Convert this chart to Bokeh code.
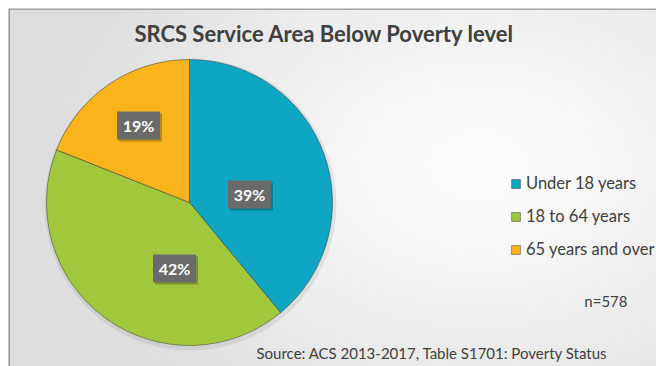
import numpy as np
from bokeh.plotting import figure
from bokeh.models import ColumnDataSource, Range1d, Label, Legend, LegendItem, Span
from bokeh.core.properties import value
from bokeh.embed import file_html
from bokeh.resources import INLINE

# ---- data ----
categories = ["Under 18 years", "18 to 64 years", "65 years and over"]
percents = [39, 42, 19]
colors = ["#0ea6c2", "#a1c83d", "#fab41b"]
title_text = "SRCS Service Area Below Poverty level"
n_text = "n=578"
source_text = "Source: ACS 2013-2017, Table S1701: Poverty Status"

# ---- layout ----
W, H = 648, 358          # frame size
cx, cy, R = 181, 164, 143
label_dx = [60, -15, -51]
label_dy = [8, -66, 77]
FONT = "Lato"
TXT = "#404040"

vals = np.array(percents, dtype=float)
frac = vals / vals.sum()
cum = np.concatenate([[0], np.cumsum(frac)])
start = np.pi / 2 - 2 * np.pi * cum[:-1]
end = np.pi / 2 - 2 * np.pi * cum[1:]

src = ColumnDataSource(dict(
    category=categories, start=start, end=end, color=colors,
    lx=[cx + d for d in label_dx], ly=[cy + d for d in label_dy],
    lbl=[f"{v}%" for v in percents],
))

p = figure(width=W + 8, height=H + 8, x_range=Range1d(0, W), y_range=Range1d(0, H),
           output_backend="svg", toolbar_location=None,
           min_border_left=8, min_border_top=8, min_border_right=0, min_border_bottom=0,
           background_fill_color="#eeeeee", border_fill_color="#ffffff",
           outline_line_color=None)
p.axis.visible = False
p.grid.visible = False

# soft radial background (decorative)
yy, xx = np.mgrid[0:H, 0:W]
t = np.sqrt(((xx - 470) / 430.0) ** 2 + ((yy - 200) / 300.0) ** 2)
t = np.clip(t, 0, 1)
g = (253 - 31 * t ** 1.3).astype(np.uint32)
img = (255 << 24) | (g << 16) | (g << 8) | g
p.image_rgba(image=[img.astype(np.uint32)], x=0, y=0, dw=W, dh=H)

# frame border (top & left visible in window)
p.add_layout(Span(location=0, dimension="height", line_color="#9a9a9a", line_width=3))
p.add_layout(Span(location=H, dimension="width", line_color="#a8a8a8", line_width=3))

# pie shadow
p.circle(x=cx + 1, y=cy - 2, radius=R + 3, fill_color="#000000", fill_alpha=0.07, line_color=None)

w = p.wedge(x=cx, y=cy, radius=R, start_angle="start", end_angle="end", direction="clock",
            fill_color="color", line_color="#2a2a2a", line_alpha=0.45, line_width=1, source=src)

# label boxes with shadow
p.rect(x=[x + 2 for x in src.data["lx"]], y=[y - 2 for y in src.data["ly"]], width=43, height=28,
       width_units="screen", height_units="screen", fill_color="#000000", fill_alpha=0.25, line_color=None)
p.rect(x="lx", y="ly", width=43, height=28, width_units="screen", height_units="screen",
       fill_color="#6a6a6a", line_color=None, source=src)
p.text(x="lx", y="ly", text="lbl", text_align="center", text_baseline="middle",
       text_font=value(FONT), text_font_style="bold", text_font_size="16px",
       text_color="white", source=src)

# legend
legend = Legend(items=[LegendItem(label=c, renderers=[w], index=i) for i, c in enumerate(categories)],
                location=(502, 107), orientation="vertical",
                glyph_width=11, glyph_height=11, label_standoff=5, label_height=20, spacing=13,
                padding=0, margin=0, border_line_color=None, background_fill_alpha=0,
                label_text_font=FONT, label_text_font_size="16.5px", label_text_color=TXT)
p.add_layout(legend, "center")

p.add_layout(Label(x=316, y=333, text=title_text, text_align="center", text_baseline="middle",
                   text_font=FONT, text_font_style="bold", text_font_size="22px", text_color=TXT))
p.add_layout(Label(x=619, y=66, text=n_text, text_align="right", text_baseline="middle",
                   text_font=FONT, text_font_size="15px", text_color=TXT))
p.add_layout(Label(x=248, y=14, text=source_text, text_align="left", text_baseline="middle",
                   text_font=FONT, text_font_size="15px", text_color=TXT))

open("out.html", "w").write(file_html(p, INLINE))
